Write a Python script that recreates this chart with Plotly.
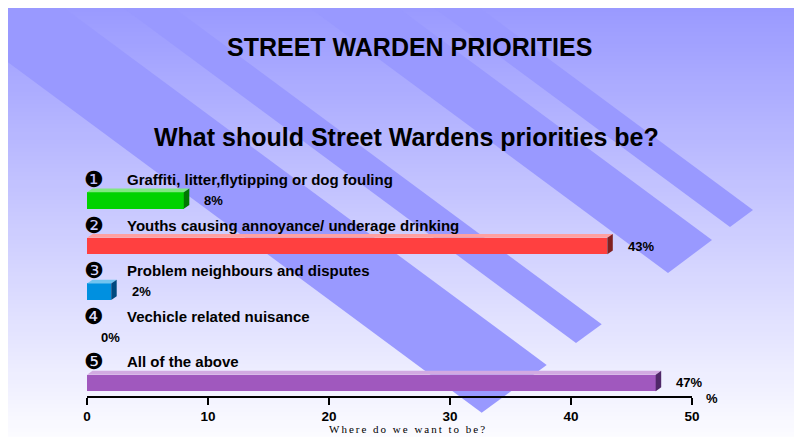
import plotly.graph_objects as go

# ---------------- data ----------------
markers = ["❶", "❷", "❸", "❹", "❺"]
categories = [
    "Graffiti, litter,flytipping or dog fouling",
    "Youths causing annoyance/ underage drinking",
    "Problem neighbours and disputes",
    "Vechicle related nuisance",
    "All of the above",
]
values = [8, 43, 2, 0, 47]
value_labels = [f"{v}%" for v in values]
tick_values = [0, 10, 20, 30, 40, 50]
front_colors = ["#00D200", "#FF4040", "#0090E0", "#E0C000", "#A058BE"]
top_colors = ["#80E880", "#FFA0A0", "#70C4F0", "#F0E080", "#D2AAE2"]
side_colors = ["#007800", "#802020", "#004A80", "#806000", "#502868"]

title_text = "STREET WARDEN PRIORITIES"
subtitle_text = "What should Street Wardens priorities be?"
axis_title = "Where do we want to be?"
unit_text = "%"

# ---------------- layout geometry (page pixels) ----------------
OFF = 8                      # default page margin of the html body
PAGE_W, PAGE_H = 802, 437
W, H = PAGE_W - OFF, PAGE_H - OFF
P_LEFT, P_RIGHT, P_TOP, P_BOTTOM = 87, 692, 155, 396
L, R = P_LEFT - OFF, PAGE_W - P_RIGHT
T, B = P_TOP - OFF, PAGE_H - P_BOTTOM
PW, PH = P_RIGHT - P_LEFT, P_BOTTOM - P_TOP
X_MAX = 50
Y0_PX, ROW_PX = 200.5, 45.6
y_lo = (P_BOTTOM - Y0_PX) / ROW_PX
y_hi = (P_TOP - Y0_PX) / ROW_PX


def px_x(px):
    return (px - P_LEFT) / PW


def px_y(py):
    return (P_BOTTOM - py) / PH


ux = X_MAX / PW
uy = 1.0 / ROW_PX
BAR_H = 16.5 * uy
DX, DY = 5.5 * ux, 3.8 * uy

FONT = "Liberation Sans, Arial, sans-serif"

fig = go.Figure()

# front faces
fig.add_trace(go.Bar(
    x=values, y=list(range(len(values))), orientation="h",
    width=BAR_H, marker=dict(color=front_colors, line=dict(width=0)),
    hoverinfo="skip", showlegend=False,
))

# top and side faces (3D effect)
for i, v in enumerate(values):
    if v <= 0:
        continue
    yt = i - BAR_H / 2
    fig.add_trace(go.Scatter(
        x=[0, v, v + DX, DX, 0], y=[yt, yt, yt - DY, yt - DY, yt],
        fill="toself", fillcolor=top_colors[i], mode="lines",
        line=dict(width=0, color=top_colors[i]), hoverinfo="skip", showlegend=False,
    ))
    fig.add_trace(go.Scatter(
        x=[v, v + DX, v + DX, v, v], y=[yt, yt - DY, yt + BAR_H - DY, yt + BAR_H, yt],
        fill="toself", fillcolor=side_colors[i], mode="lines",
        line=dict(width=0, color=side_colors[i]), hoverinfo="skip", showlegend=False,
    ))

shapes = []
# background vertical gradient
STEP = 4
for py in range(0, PAGE_H, STEP):
    t = max(0.0, min(1.0, (py + STEP / 2 - 5) / (PAGE_H - 5)))
    c = int(round(153 + (252 - 153) * t))
    shapes.append(dict(
        type="rect", xref="paper", yref="paper", layer="below",
        x0=px_x(0), x1=px_x(PAGE_W + 5), y0=px_y(py + STEP + 0.5), y1=px_y(py),
        fillcolor=f"rgb({c},{c},255)", line=dict(width=0),
    ))

# diagonal decorative stripes: (bottom tip, right corner, slope)
stripes = [
    ((730, 227), (753, 210), 0.74),
    ((668, 273), (712, 240), 0.74),
    ((576, 343), (601.7, 324.3), 0.74),
    ((481.7, 412.7), (546.7, 365), 0.74),
]
for (bx, by), (rx, ry), s in stripes:
    top_y = -40
    lx = bx - (by - top_y) / s
    ux_ = rx - (ry - top_y) / s
    pts = [(lx, top_y), (bx, by), (rx, ry), (ux_, top_y)]
    path = "M " + " L ".join(f"{px_x(x):.5f},{px_y(y):.5f}" for x, y in pts) + " Z"
    shapes.append(dict(
        type="path", xref="paper", yref="paper", layer="below", path=path,
        fillcolor="#9999FF", line=dict(width=0),
    ))

annotations = []
annotations.append(dict(
    text=f"<b>{title_text}</b>", xref="paper", yref="paper",
    x=px_x(409.5), y=px_y(46.5), xanchor="center", yanchor="middle",
    showarrow=False, font=dict(family=FONT, size=25, color="black"),
))
annotations.append(dict(
    text=f"<b>{subtitle_text}</b>", xref="paper", yref="paper",
    x=px_x(406.5), y=px_y(136.5), xanchor="center", yanchor="middle",
    showarrow=False, font=dict(family=FONT, size=25, color="black"),
))
for i, (m, cat) in enumerate(zip(markers, categories)):
    annotations.append(dict(
        text=m, xref="paper", yref="y", x=px_x(94), y=i - 0.46,
        xanchor="center", yanchor="middle", showarrow=False,
        font=dict(family="DejaVu Sans", size=22, color="black"),
    ))
    annotations.append(dict(
        text=f"<b>{cat}</b>", xref="paper", yref="y", x=px_x(125), y=i - 0.46,
        xanchor="left", yanchor="middle", showarrow=False,
        font=dict(family=FONT, size=15, color="black"),
    ))
for i, (v, lab) in enumerate(zip(values, value_labels)):
    annotations.append(dict(
        text=f"<b>{lab}</b>", xref="x", yref="y", x=v, y=i,
        xshift=18.5 if v > 0 else 12, xanchor="left", yanchor="middle",
        showarrow=False, font=dict(family=FONT, size=13, color="black"),
    ))
annotations.append(dict(
    text=f"<b>{unit_text}</b>", xref="paper", yref="paper",
    x=px_x(711.5), y=px_y(398.5), xanchor="center", yanchor="middle",
    showarrow=False, font=dict(family=FONT, size=13, color="black"),
))
annotations.append(dict(
    text=f'<span style="letter-spacing:2px">{axis_title}</span>',
    xref="paper", yref="paper", x=px_x(408), y=px_y(428.5),
    xanchor="center", yanchor="middle", showarrow=False,
    font=dict(family="Liberation Serif, Times New Roman, serif", size=11, color="black"),
))

fig.update_layout(
    width=W, height=H,
    margin=dict(l=L, r=R, t=T, b=B, pad=0),
    paper_bgcolor="white", plot_bgcolor="rgba(0,0,0,0)",
    shapes=shapes, annotations=annotations, showlegend=False,
    bargap=0,
    xaxis=dict(
        range=[0, X_MAX], tickvals=tick_values, ticktext=[str(t) for t in tick_values],
        showgrid=False, zeroline=False, showline=True, linecolor="black", linewidth=2,
        ticks="outside", ticklen=7, tickwidth=2, tickcolor="black",
        tickfont=dict(family=FONT, size=13.5, color="black", weight="bold"),
        fixedrange=True,
    ),
    yaxis=dict(
        range=[y_lo, y_hi], visible=False, showgrid=False, zeroline=False, fixedrange=True,
    ),
)

fig.write_html("out.html")
